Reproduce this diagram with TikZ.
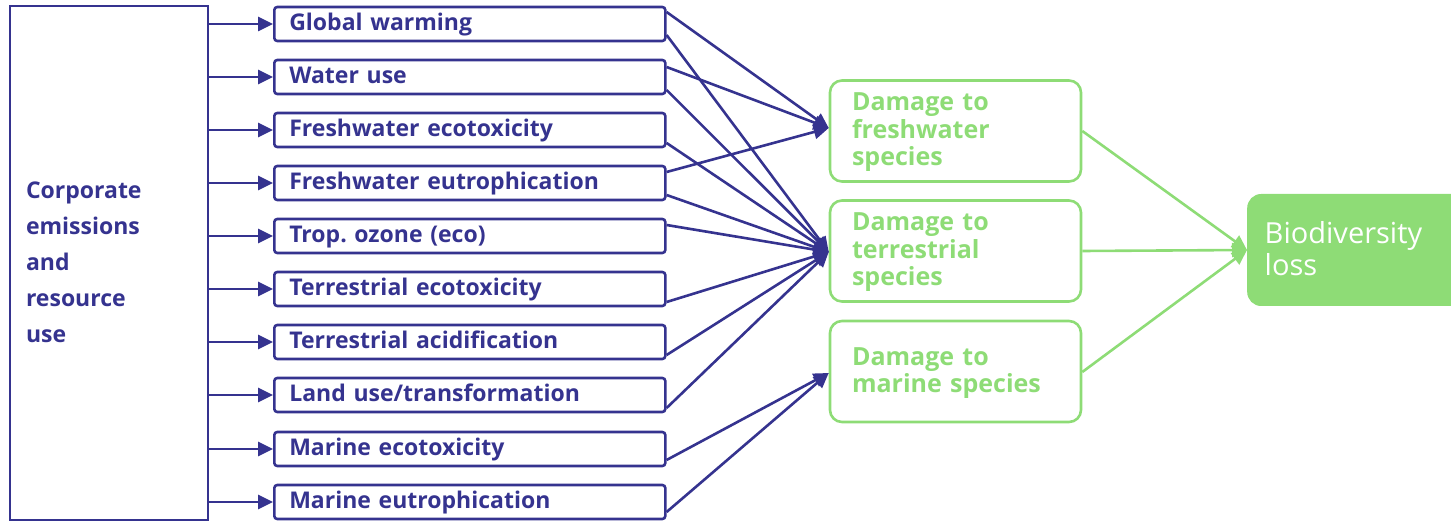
\documentclass[tikz,border=0pt]{standalone}
\usepackage{fontspec}
\setmainfont{Open Sans}
\usetikzlibrary{arrows.meta,calc}
\definecolor{navy}{HTML}{35338F}
\definecolor{lgreen}{HTML}{8EDC76}
\begin{document}
\begin{tikzpicture}[x=1pt,y=-1pt,
  sbox/.style={draw=navy,line width=2.6pt,rounded corners=3pt,minimum width=391pt,minimum height=34pt,
    text width=361pt,align=left,inner xsep=15pt,inner ysep=0pt,anchor=west,text=navy,
    text height=17pt,text depth=3.6pt,
    font=\fontsize{23}{27}\selectfont\bfseries},
  gbox/.style={draw=lgreen,line width=2.6pt,rounded corners=12pt,minimum width=251pt,minimum height=101pt,
    text width=207pt,align=left,inner xsep=22pt,inner ysep=0pt,text=lgreen,
    text height=18pt,text depth=58pt,
    font=\fontsize{25}{27.5}\selectfont\bfseries},
  arr/.style={draw=navy,line width=2.6pt,-{Triangle[length=15pt,width=14pt]}},
  garr/.style={draw=lgreen,line width=2.6pt,-{Triangle[length=15pt,width=14pt]}}]
\useasboundingbox (0,0) rectangle (1451,521);
% big left box
\node[draw=navy,line width=2.6pt,minimum width=198pt,minimum height=514pt,text width=166pt,
  align=left,inner xsep=16pt,inner ysep=0pt,text=navy,text height=17pt,text depth=146pt,
  font=\fontsize{23}{36}\selectfont\bfseries] (big) at (109,263)
  {Corporate\\emissions\\and\\resource\\use};
% small boxes
\node[sbox] (gw) at (273,24) {Global warming};
\node[sbox] (wu) at (273,77) {Water use};
\node[sbox] (fe) at (273,130) {Freshwater ecotoxicity};
\node[sbox] (feu) at (273,183) {Freshwater eutrophication};
\node[sbox] (to) at (273,236) {Trop.\ ozone (eco)};
\node[sbox] (te) at (273,289) {Terrestrial ecotoxicity};
\node[sbox] (ta) at (273,342) {Terrestrial acidification};
\node[sbox] (lu) at (273,395) {Land use/transformation};
\node[sbox] (me) at (273,449) {Marine ecotoxicity};
\node[sbox] (meu) at (273,502) {Marine eutrophication};
% green boxes
\node[gbox] (fw) at (955.5,131) {Damage to\\freshwater\\species};
\node[gbox] (tr) at (955.5,251) {Damage to\\terrestrial\\species};
\node[gbox,text depth=30.5pt] (ms) at (955.5,371.5) {Damage to\\marine species};
\node[fill=lgreen,rounded corners=14pt,minimum width=220pt,minimum height=112pt,anchor=west,
  text width=185pt,align=left,inner xsep=17pt,inner ysep=0pt,text=white,
  text height=22pt,text depth=34pt,
  font=\fontsize{29}{32}\selectfont] (bio) at (1247,250) {Biodiversity\\loss};
% arrows from big box
\foreach \n in {gw,wu,fe,feu,to,te,ta,lu,me,meu}
  \draw[arr] (\n.west -| big.east) -- (\n.west);
% to freshwater
\draw[arr] ([yshift=12pt]gw.east) -- ([yshift=3pt]fw.west);
\draw[arr] ([yshift=10pt]wu.east) -- ([yshift=3pt]fw.west);
\draw[arr] ([yshift=11pt]feu.east) -- ([yshift=3pt]fw.west);
% to terrestrial
\draw[arr] ([yshift=-11pt]gw.east) -- ([yshift=-1pt]tr.west);
\draw[arr] ([yshift=-13pt]wu.east) -- ([yshift=-1pt]tr.west);
\draw[arr] ([yshift=-13pt]fe.east) -- ([yshift=-1pt]tr.west);
\draw[arr] ([yshift=-12pt]feu.east) -- ([yshift=-1pt]tr.west);
\draw[arr] ([yshift=11pt]to.east) -- ([yshift=-1pt]tr.west);
\draw[arr] ([yshift=-13pt]te.east) -- ([yshift=-1pt]tr.west);
\draw[arr] ([yshift=-13pt]ta.east) -- ([yshift=-1pt]tr.west);
\draw[arr] ([yshift=-13pt]lu.east) -- ([yshift=-1pt]tr.west);
% to marine
\draw[arr] ([yshift=-11pt]me.east) -- ([yshift=-1.5pt]ms.west);
\draw[arr] ([yshift=-10pt]meu.east) -- ([yshift=-1.5pt]ms.west);
% green arrows
\draw[garr] (fw.east) -- (bio.west);
\draw[garr] (tr.east) -- (bio.west);
\draw[garr] ([yshift=-0.5pt]ms.east) -- (bio.west);
\end{tikzpicture}
\end{document}
